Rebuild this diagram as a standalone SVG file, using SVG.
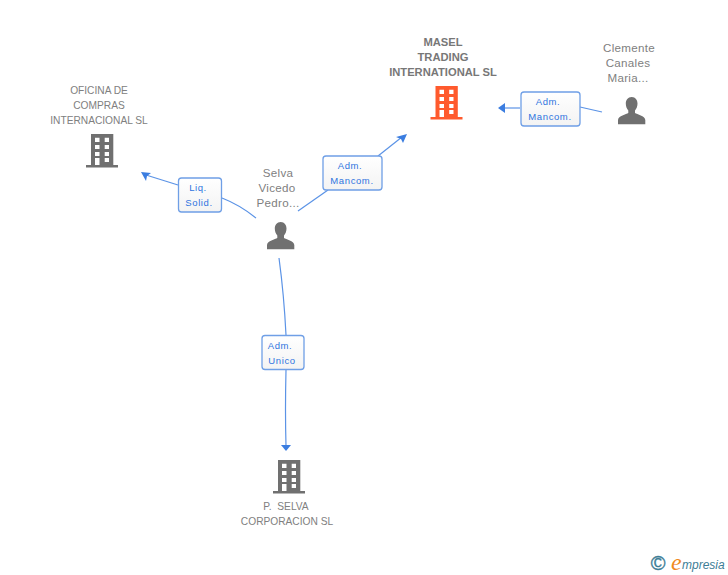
<svg xmlns="http://www.w3.org/2000/svg" width="728" height="575" viewBox="0 0 728 575">
<style>
.t{font-family:"Liberation Sans",Arial,sans-serif;font-size:10.2px;fill:#808080;text-anchor:middle;white-space:pre}
.p{font-size:11.6px;letter-spacing:.3px}
.b{font-weight:bold;font-size:11.2px;fill:#777}
.c{fill:none;stroke:#5b93e6;stroke-width:1.2}
.box{fill:url(#g);stroke:#6f9fe6;stroke-width:1.3}
.l{font-family:"Liberation Sans",Arial,sans-serif;font-size:9.5px;letter-spacing:.6px;fill:#2f74e0;text-anchor:middle}
.a{fill:#3b7de0}
</style>
<defs>
<linearGradient id="g" x1="0" y1="0" x2="0" y2="1"><stop offset="0" stop-color="#fff"/><stop offset="1" stop-color="#f3f3f3"/></linearGradient>
<path id="bld" fill-rule="evenodd" d="M5 0H27.300V31H32V33.500H0V31H5ZM9 3.700V8H13.500V3.700ZM18.700 3.700V8H23V3.700ZM9 11V15H13.500V11ZM18.700 11V15H23V11ZM9 18V22H13.500V18ZM18.700 18V22H23V18ZM9 24V31H13.500V24ZM18.700 24V28H23V24Z"/>
<path id="per" d="M13.700 0C17.500 0 19.500 3 19.500 6.500C19.500 9.500 18.500 11.500 17 13.500V16C19 17.500 27 18.500 27.300 23V27.300H0V23C.3 18.500 8.300 17.500 10.300 16V13.500C8.800 11.500 7.800 9.500 7.800 6.500C7.800 3 9.900 0 13.700 0Z"/>
</defs>
<rect width="728" height="575" fill="#fff"/>
<g id="connectors">
<path class="c" d="M256 218Q240 205 222 198"/>
<path class="c" d="M178 185L146 175"/>
<path class="a" d="M141 172L151 173L147 176L146 181Z"/>
<path class="c" d="M298 211L328 190"/>
<path class="c" d="M378 156L402 137"/>
<path class="a" d="M407 134L403 143L401 139L396 137Z"/>
<path class="c" d="M602 112L580 107"/>
<path class="c" d="M520 108H503"/>
<path class="a" d="M498 108L505 103V113Z"/>
<path class="c" d="M279 258Q284 295 286 335"/>
<path class="c" d="M286 370Q285 410 286 446"/>
<path class="a" d="M286 451L281 445H291Z"/>
</g>
<g id="edge-liq"><rect class="box" x="178.500" y="178" width="43" height="34" rx="3"/><text class="l" x="198" y="191">Liq.</text><text class="l" x="199" y="206">Solid.</text></g>
<g id="edge-adm1"><rect class="box" x="323" y="156" width="59" height="34" rx="3"/><text class="l" x="350" y="169">Adm.</text><text class="l" x="352" y="184">Mancom.</text></g>
<g id="edge-adm2"><rect class="box" x="521" y="92" width="59" height="34" rx="3"/><text class="l" x="548" y="105">Adm.</text><text class="l" x="550" y="120">Mancom.</text></g>
<g id="edge-adm3"><rect class="box" x="262" y="335.500" width="42" height="34" rx="3"/><text class="l" x="280" y="349">Adm.</text><text class="l" x="282" y="364">Unico</text></g>
<g id="node-masel"><text class="t b" x="443" y="46">MASEL</text><text class="t b" x="443" y="61">TRADING</text><text class="t b" x="443" y="76">INTERNATIONAL SL</text><use href="#bld" x="430.500" y="86" fill="#ff5a2d"/></g>
<g id="node-clemente"><text class="t p" x="629" y="52">Clemente</text><text class="t p" x="628" y="67">Canales</text><text class="t p" x="628" y="82">Maria...</text><use href="#per" x="618" y="97" fill="#707070"/></g>
<g id="node-oficina"><text class="t" x="99" y="94">OFICINA DE</text><text class="t" x="99" y="109">COMPRAS</text><text class="t" x="99" y="124">INTERNACIONAL SL</text><use href="#bld" x="86" y="134" fill="#707070"/></g>
<g id="node-selva"><text class="t p" x="278" y="177">Selva</text><text class="t p" x="277" y="192">Vicedo</text><text class="t p" x="278" y="207">Pedro...</text><use href="#per" x="267" y="222" fill="#707070"/></g>
<g id="node-pselva"><use href="#bld" x="273" y="460" fill="#707070"/><text class="t" x="286" y="510">P.  SELVA</text><text class="t" x="287" y="525">CORPORACION SL</text></g>
<g id="logo"><text x="658" y="570" font-family="'Liberation Sans',sans-serif" font-size="20" fill="#3d7d96" stroke="#3d7d96" stroke-width=".4" text-anchor="middle">©</text><text x="671" y="570" font-family="'Liberation Serif',serif" font-style="italic" font-size="24" fill="#f08a1d">e</text><text x="682" y="569" font-family="'Liberation Sans',sans-serif" font-style="italic" font-size="12" fill="#3d7d96">mpresia</text></g>
</svg>
